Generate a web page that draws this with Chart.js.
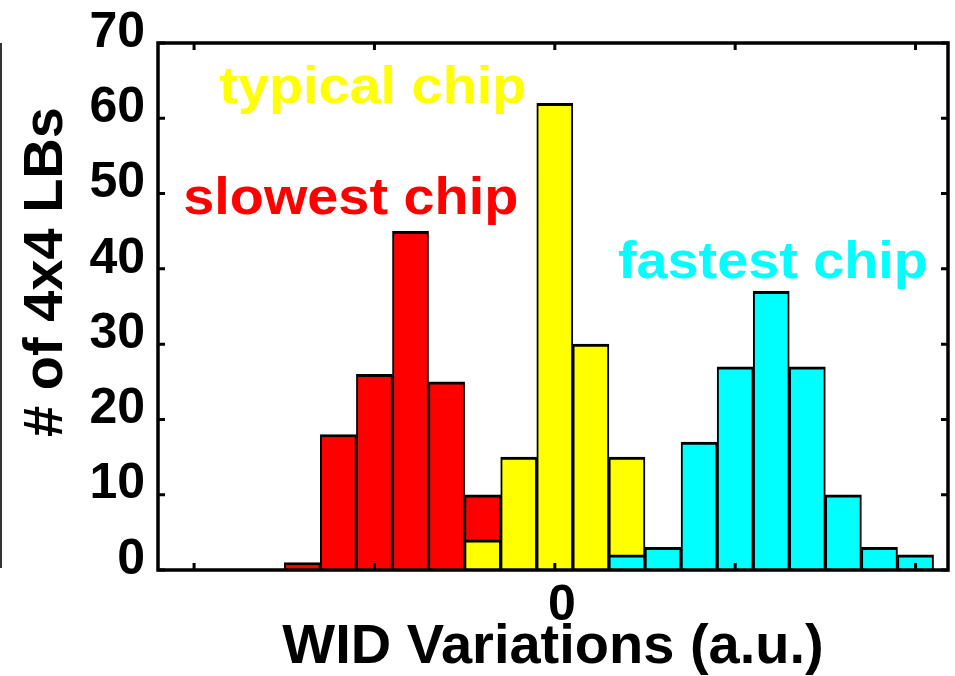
<!DOCTYPE html>
<html>
<head>
<meta charset="utf-8">
<script src="https://cdn.jsdelivr.net/npm/chart.js@4/dist/chart.umd.min.js"></script>
<style>
  html, body { margin: 0; padding: 0; background: #fff; }
  #wrap { width: 955px; height: 676px; position: relative; }
</style>
</head>
<body>
<div id="wrap"><canvas id="chart"></canvas></div>
<script>
/* ===== WID variation histogram ===== */

// bin centres (a.u., one bin per unit) and counts per chip
const slowBins = [-7, -6, -5, -4, -3, -2];
const slowCounts = [1, 18, 26, 45, 25, 10];
const typBins = [-2, -1, 0, 1, 2];
const typCounts = [4, 15, 62, 30, 15];
const fastBins = [2, 3, 4, 5, 6, 7, 8, 9, 10];
const fastCounts = [2, 3, 17, 27, 37, 27, 10, 3, 2];

const xTicks = [-10, -5, 0, 5, 10];
const yTicks = [0, 10, 20, 30, 40, 50, 60, 70];

const labels = [
  { text: "slowest chip", color: "#ff0000" },
  { text: "typical chip", color: "#ffff00" },
  { text: "fastest chip", color: "#00ffff" },
];

const FONT = "'Liberation Sans', Arial, Helvetica, sans-serif";
const pts = (xs, ys) => xs.map((x, i) => ({ x, y: ys[i] }));

// frame, inward ticks, y title and the text labels
const decor = {
  id: "decor",
  afterDraw(chart) {
    const { ctx, chartArea: a, scales: { x, y } } = chart;
    ctx.save();

    // stray crop line on the far left
    ctx.fillStyle = "#333";
    ctx.fillRect(0, a.top, 2, a.bottom - a.top - 2);

    ctx.strokeStyle = "#000";
    ctx.lineWidth = 3;
    const tl = 7;
    ctx.beginPath();
    xTicks.forEach(v => {
      const px = x.getPixelForValue(v);
      ctx.moveTo(px, a.bottom); ctx.lineTo(px, a.bottom - tl);
      ctx.moveTo(px, a.top); ctx.lineTo(px, a.top + tl);
    });
    yTicks.forEach(v => {
      const py = y.getPixelForValue(v);
      ctx.moveTo(a.left, py); ctx.lineTo(a.left + tl, py);
      ctx.moveTo(a.right, py); ctx.lineTo(a.right - tl, py);
    });
    ctx.stroke();

    ctx.lineWidth = 3.5;
    ctx.strokeRect(a.left, a.top, a.right - a.left, a.bottom - a.top);

    // y title
    ctx.fillStyle = "#000";
    ctx.font = "bold 56px " + FONT;
    ctx.textAlign = "center";
    ctx.textBaseline = "alphabetic";
    ctx.translate(62, 272);
    ctx.rotate(-Math.PI / 2);
    ctx.fillText("# of 4x4 LBs", 0, 0);
    ctx.setTransform(1, 0, 0, 1, 0, 0);

    // chip labels, anchored in data units: [x, baseline y, target width]
    const anchors = [[-10.3, 47.3, 335], [-9.3, 62.0, 307], [1.75, 38.8, 310]];
    ctx.font = "bold 52px " + FONT;
    ctx.textAlign = "left";
    labels.forEach((l, i) => {
      const [ax, ay, w] = anchors[i];
      const sx = w / ctx.measureText(l.text).width;
      ctx.save();
      ctx.translate(x.getPixelForValue(ax), y.getPixelForValue(ay));
      ctx.scale(sx, 1);
      ctx.fillStyle = l.color;
      ctx.fillText(l.text, 0, 0);
      ctx.restore();
    });
    ctx.restore();
  }
};

const bar = (data, color, order) => ({
  data, order,
  backgroundColor: color,
  borderColor: "#000",
  borderWidth: { top: 3, left: 2, right: 2, bottom: 0 },
  borderSkipped: "start",
  categoryPercentage: 1,
  barPercentage: 1,
  grouped: false,
});

new Chart(document.getElementById("chart"), {
  type: "bar",
  data: {
    datasets: [
      bar(pts(slowBins, slowCounts), "#ff0000", 2),
      bar(pts(typBins, typCounts), "#ffff00", 1),
      bar(pts(fastBins, fastCounts), "#00ffff", 0),
    ]
  },
  options: {
    responsive: true, maintainAspectRatio: false, animation: false,
    layout: { padding: { left: 0, right: 7, top: 42, bottom: 0 } },
    plugins: { legend: { display: false }, tooltip: { enabled: false } },
    scales: {
      x: {
        type: "linear", min: -11, max: 10.9, offset: false,
        afterFit: s => { s.height = 106; },
        afterBuildTicks: s => { s.ticks = xTicks.map(v => ({ value: v })); },
        grid: { display: false, drawTicks: false, offset: false },
        border: { display: false },
        ticks: {
          color: "#000", padding: 6, labelOffset: 7, maxRotation: 0,
          font: { family: FONT, size: 50, weight: "bold" },
          callback: v => (v === 0 ? "0" : ""),
        },
        title: {
          display: true, text: "WID Variations (a.u.)", color: "#000",
          font: { family: FONT, size: 56, weight: "bold", lineHeight: 1 },
          padding: { top: 0, bottom: 0 },
        },
      },
      y: {
        min: 0, max: 70,
        afterFit: s => { s.width = 158; },
        afterBuildTicks: s => { s.ticks = yTicks.map(v => ({ value: v })); },
        grid: { display: false, drawTicks: false },
        border: { display: false },
        ticks: {
          color: "#000", padding: 13, labelOffset: -10,
          font: { family: FONT, size: 50, weight: "bold" },
        },
      },
    },
  },
  plugins: [decor],
});
</script>
</body>
</html>
